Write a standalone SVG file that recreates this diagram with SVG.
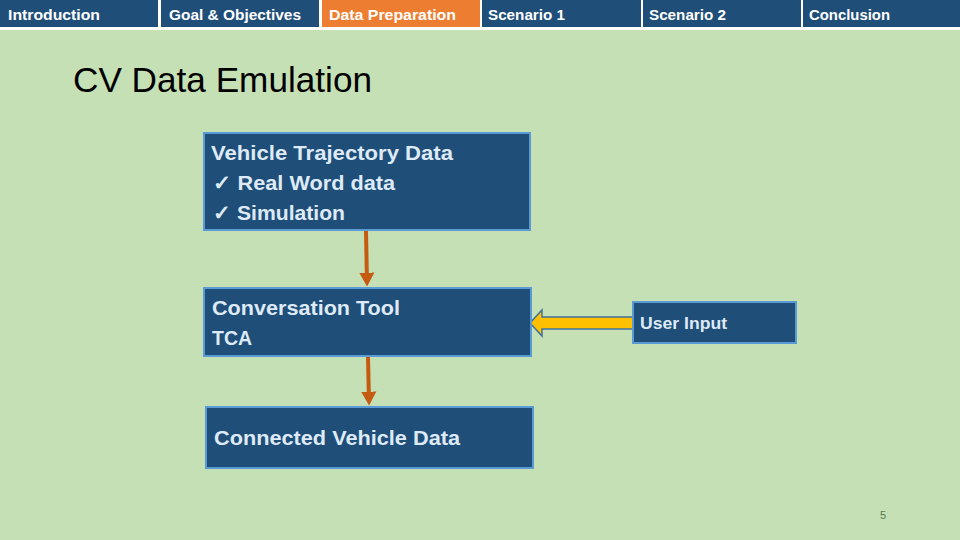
<svg xmlns="http://www.w3.org/2000/svg" width="960" height="540" viewBox="0 0 960 540">
<defs>
<style>
.tab{fill:#1f4e79}
.tabt{font-family:"Liberation Sans",Arial,sans-serif;font-size:14px;fill:#ffffff;font-weight:bold}
.box{fill:#1f4e79;stroke:#5b9bd5;stroke-width:2}
.bt{font-family:"Liberation Sans",Arial,sans-serif;font-size:21px;fill:#deebf7;font-weight:bold}
.conn{stroke:#c55a11;stroke-width:4;fill:none}
</style>
<marker id="ah" markerWidth="5" markerHeight="5" refX="2.6" refY="2" orient="auto" markerUnits="strokeWidth">
<path d="M0,0.1 L3.5,2 L0,3.9 Z" fill="#c55a11"/>
</marker>
</defs>
<rect x="0" y="0" width="960" height="540" fill="#c5e0b4"/>
<rect x="0" y="0" width="960" height="30" fill="#ffffff"/>
<g id="tabs">
<rect class="tab" x="0" y="0" width="158" height="27"/>
<rect class="tab" x="161" y="0" width="158" height="27"/>
<rect x="322" y="0" width="158" height="27" fill="#ed7d31"/>
<rect class="tab" x="482" y="0" width="159" height="27"/>
<rect class="tab" x="643" y="0" width="158" height="27"/>
<rect class="tab" x="803" y="0" width="157" height="27"/>
<text class="tabt" x="8" y="20" textLength="92" lengthAdjust="spacingAndGlyphs">Introduction</text>
<text class="tabt" x="169" y="20" textLength="132" lengthAdjust="spacingAndGlyphs">Goal &amp; Objectives</text>
<text class="tabt" x="329" y="20" textLength="127" lengthAdjust="spacingAndGlyphs">Data Preparation</text>
<text class="tabt" x="488" y="20" textLength="77" lengthAdjust="spacingAndGlyphs">Scenario 1</text>
<text class="tabt" x="649" y="20" textLength="77" lengthAdjust="spacingAndGlyphs">Scenario 2</text>
<text class="tabt" x="809" y="20" textLength="81" lengthAdjust="spacingAndGlyphs">Conclusion</text>
</g>
<text x="73" y="92" font-family="'Liberation Sans',Arial,sans-serif" font-size="35" fill="#000000" textLength="299" lengthAdjust="spacingAndGlyphs">CV Data Emulation</text>
<g id="connectors">
<line class="conn" x1="366" y1="231" x2="367" y2="283" marker-end="url(#ah)"/>
<line class="conn" x1="368" y1="357" x2="369" y2="402" marker-end="url(#ah)"/>
<path d="M530,323 L542,310 L542,317 L633,317 L633,329 L542,329 L542,336 Z" fill="#ffc000" stroke="#41719c" stroke-width="1.5"/>
</g>
<g id="node-vtd">
<rect class="box" x="204" y="133" width="326" height="97"/>
<text class="bt" x="211" y="160" textLength="242" lengthAdjust="spacingAndGlyphs">Vehicle Trajectory Data</text>
<text class="bt" x="213" y="190" textLength="182" lengthAdjust="spacingAndGlyphs">✓ Real Word data</text>
<text class="bt" x="213" y="220" textLength="132" lengthAdjust="spacingAndGlyphs">✓ Simulation</text>
</g>
<g id="node-tca">
<rect class="box" x="204" y="288" width="327" height="68"/>
<text class="bt" x="212" y="315" textLength="188" lengthAdjust="spacingAndGlyphs">Conversation Tool</text>
<text class="bt" x="212" y="345" textLength="40" lengthAdjust="spacingAndGlyphs">TCA</text>
</g>
<g id="node-cvd">
<rect class="box" x="206" y="407" width="327" height="61"/>
<text class="bt" x="214" y="445" textLength="246" lengthAdjust="spacingAndGlyphs">Connected Vehicle Data</text>
</g>
<g id="node-user">
<rect class="box" x="633" y="302" width="163" height="41"/>
<text x="640" y="329" font-family="'Liberation Sans',Arial,sans-serif" font-size="16" font-weight="bold" fill="#deebf7" textLength="87" lengthAdjust="spacingAndGlyphs">User Input</text>
</g>
<text x="883" y="519" font-family="'Liberation Sans',Arial,sans-serif" font-size="11" fill="#5a7a50" text-anchor="middle">5</text>
</svg>
